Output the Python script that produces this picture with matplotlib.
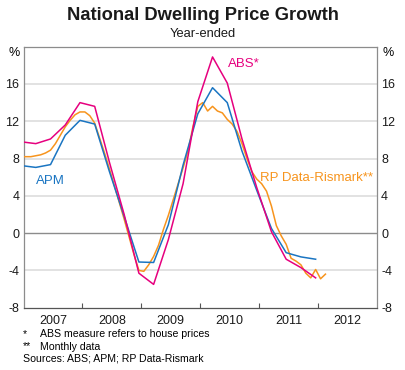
import matplotlib
matplotlib.use('Agg')
from matplotlib import pyplot as plt
from matplotlib.ticker import FixedLocator, NullFormatter
import pandas as pd

plt.rcParams['font.family'] = ['Liberation Sans', 'DejaVu Sans']

# quarterly series, Dec 2006 .. Dec 2011 (year-ended % change)
quarters = pd.period_range('2006Q4', '2011Q4', freq='Q')
abs_growth = [9.8, 9.6, 10.1, 11.6, 14.0, 13.6, 7.6, 2.0, -4.3, -5.5, -0.7,
              5.3, 14.1, 18.9, 16.1, 10.1, 4.9, 0.15, -2.8, -3.7, -4.8]
apm_growth = [7.25, 7.05, 7.35, 10.5, 12.1, 11.7, 6.6, 1.8, -3.1, -3.15, 0.9,
              7.3, 12.8, 15.6, 14.0, 8.8, 4.6, 0.5, -2.1, -2.55, -2.8]

# monthly series, Dec 2006 .. Feb 2012
months = pd.period_range('2006-12', '2012-02', freq='M')
rp_growth = [8.2, 8.2, 8.2, 8.3, 8.4, 8.6, 8.9, 9.6, 10.5, 11.4, 12.1, 12.7,
             13.0, 13.0, 12.6, 11.8, 10.2, 8.6, 6.9, 5.1, 3.3, 1.5, -0.4, -2.3,
             -4.0, -4.1, -3.4, -2.5, -1.3, 0.4, 1.9, 3.6, 5.3, 7.0, 8.8, 11.4,
             13.6, 14.0, 13.1, 13.6, 13.1, 12.9, 12.2, 11.7, 10.9, 9.6, 8.0, 6.6,
             5.8, 5.3, 4.5, 2.9, 0.8, -0.3, -1.2, -2.7, -3.0, -3.4, -4.3, -4.8,
             -3.9, -4.9, -4.4]

year_labels = ['2007', '2008', '2009', '2010', '2011', '2012']
y_ticks = [-8, -4, 0, 4, 8, 12, 16]

PINK = '#e6007e'
BLUE = '#1a75c2'
ORANGE = '#f7941d'


def decimal_year(periods):
    return [p.year + (p.month - 0.5) / 12 for p in periods.asfreq('M')]


fig = plt.figure(figsize=(4.06, 3.70), dpi=100)
ax = fig.add_axes([0.0579, 0.1684, 0.8707, 0.7054])

ax.plot(decimal_year(months), rp_growth, color=ORANGE, lw=1.1, zorder=3)
ax.plot(decimal_year(quarters), apm_growth, color=BLUE, lw=1.1, zorder=4)
ax.plot(decimal_year(quarters), abs_growth, color=PINK, lw=1.1, zorder=5)

ax.set_xlim(2007, 2013)
ax.set_ylim(-8, 20)

# grid
for y in y_ticks[1:]:
    if y == 0:
        ax.axhline(y, color='#8c8c8c', lw=1.0, zorder=2)
    else:
        ax.axhline(y, color='#dadada', lw=1.1, zorder=1)

# y axis on both sides
ax.set_yticks(y_ticks)
ax.set_yticklabels([str(v) for v in y_ticks])
ax.tick_params(axis='y', length=0, labelsize=9, labelright=True,
               pad=3, colors='#1a1a1a')
ax.text(-0.01, 1.0, '%', transform=ax.transAxes, ha='right', va='top', fontsize=9)
ax.text(1.015, 1.0, '%', transform=ax.transAxes, ha='left', va='top', fontsize=9)

# x axis: ticks at year boundaries, labels mid-year
ax.xaxis.set_major_locator(FixedLocator(range(2008, 2013)))
ax.xaxis.set_major_formatter(NullFormatter())
ax.xaxis.set_minor_locator(FixedLocator([2007.5 + i for i in range(6)]))
ax.set_xticklabels(year_labels, minor=True)
ax.tick_params(axis='x', which='major', direction='in', length=3.5,
               width=0.8, color='#555555')
ax.tick_params(axis='x', which='minor', length=0, labelsize=9, pad=5,
               colors='#1a1a1a')

for side in ['left', 'right', 'top']:
    ax.spines[side].set_color('#8c8c8c')
    ax.spines[side].set_linewidth(0.9)
ax.spines['bottom'].set_color('#555555')
ax.spines['bottom'].set_linewidth(0.9)

# series labels
ax.text(2010.47, 18.1, 'ABS*', color=PINK, fontsize=9.5, va='center')
ax.text(2007.21, 5.6, 'APM', color=BLUE, fontsize=9.5, va='center')
ax.text(2011.02, 5.9, 'RP Data-Rismark**', color=ORANGE, fontsize=9.5,
        va='center')

# titles
fig.text(0.5, 0.957, 'National Dwelling Price Growth', ha='center', va='center',
         fontsize=13.2, fontweight='bold', color='#1a1a1a')
fig.text(0.5, 0.908, 'Year-ended', ha='center', va='center', fontsize=9.3,
         color='#1a1a1a')

# footnotes
fig.text(23 / 406, 1 - 334 / 370, '*', ha='left', va='center', fontsize=7.6)
fig.text(40 / 406, 1 - 334 / 370, 'ABS measure refers to house prices',
         ha='left', va='center', fontsize=7.6)
fig.text(23 / 406, 1 - 346.5 / 370, '**', ha='left', va='center', fontsize=7.6)
fig.text(40 / 406, 1 - 346.5 / 370, 'Monthly data', ha='left', va='center',
         fontsize=7.6)
fig.text(23 / 406, 1 - 358.5 / 370, 'Sources: ABS; APM; RP Data-Rismark',
         ha='left', va='center', fontsize=7.6)

fig.savefig('out.png', dpi=100)
